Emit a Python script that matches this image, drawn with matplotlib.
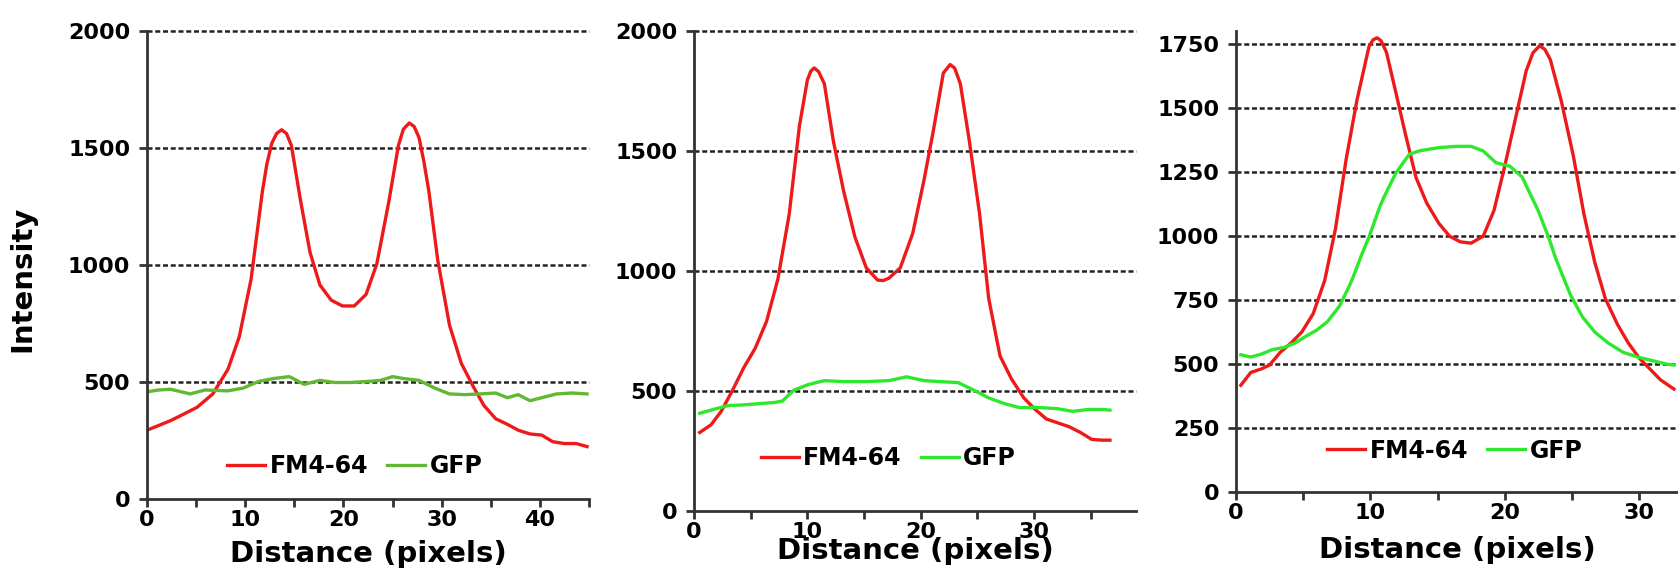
import numpy as np
import matplotlib
matplotlib.use("Agg")
import matplotlib.pyplot as plt

plt.rcParams['font.family'] = ['DejaVu Sans']
plt.rcParams['font.weight'] = 'bold'

# panel 1
x1_red = [0, 2.4, 3.6, 5.1, 6.7, 8.25, 9.4, 10.6, 11.75, 12.2, 12.7, 13.2, 13.7, 14.2, 14.7,
          15.1, 15.6, 16.6, 17.6, 18.75, 19.9, 21.1, 22.3, 23.4, 24.6, 25.6, 26.1, 26.7,
          27.2, 27.7, 28.2, 28.7, 29.6, 30.8, 32.0, 33.2, 34.3, 35.5, 36.7, 37.8, 39.0,
          40.2, 41.3, 42.5, 43.7, 44.8]
y1_red = [294, 335, 360, 392, 449, 555, 694, 940, 1315, 1430, 1520, 1562, 1578, 1562, 1511,
          1410, 1283, 1054, 915, 850, 825, 825, 874, 1005, 1266, 1511, 1580, 1607,
          1592, 1544, 1440, 1315, 1021, 743, 580, 482, 400, 343, 319, 294, 278,
          273, 245, 237, 237, 224]
x1_grn = [0, 1.2, 2.4, 4.4, 5.9, 8.2, 9.8, 11.4, 12.9, 14.5, 16.0, 17.6, 19.1, 20.7, 22.3,
          23.8, 25.0, 26.1, 27.7, 29.3, 30.8, 32.4, 33.9, 35.5, 36.7, 37.8, 39.0, 40.2,
          41.7, 43.3, 44.8]
y1_grn = [458, 466, 469, 449, 466, 462, 474, 503, 515, 523, 490, 507, 498, 498, 502,
          507, 523, 515, 507, 474, 449, 446, 449, 453, 433, 446, 420, 433,
          449, 453, 449]

# panel 2
x2_red = [0.5, 1.5, 2.4, 3.4, 4.4, 5.4, 6.4, 7.4, 8.4, 9.3, 10.0, 10.3, 10.6, 11.0, 11.5,
          12.3, 13.2, 14.2, 15.2, 16.2, 16.7, 17.2, 18.2, 19.3, 20.3, 21.1, 22.0, 22.6,
          23.0, 23.5, 24.3, 25.2, 26.0, 27.0, 28.0, 29.1, 30.1, 31.1, 32.1, 33.1, 34.1,
          35.1, 36.0, 36.7]
y2_red = [327, 359, 415, 503, 598, 678, 790, 966, 1237, 1604, 1795, 1832, 1846, 1830, 1780,
          1540, 1333, 1141, 1013, 962, 960, 970, 1013, 1157, 1380, 1580, 1825, 1860,
          1845, 1780, 1540, 1237, 886, 646, 551, 471, 423, 383, 367, 351, 327,
          298, 295, 295]
x2_grn = [0.5, 1.7, 3.0, 4.4, 5.7, 7.1, 7.8, 8.8, 10.1, 11.5, 13.2, 15.2, 17.2, 18.75, 20.3,
          22.0, 23.3, 24.7, 26.0, 27.4, 28.7, 30.4, 32.1, 33.4, 34.8, 36.1, 36.7]
y2_grn = [407, 423, 439, 442, 447, 452, 458, 503, 527, 543, 539, 539, 543, 559, 543,
          538, 535, 503, 471, 447, 431, 431, 426, 415, 423, 423, 420]

# panel 3
x3_red = [0.36, 1.1, 1.9, 2.5, 3.3, 4.1, 4.9, 5.75, 6.6, 7.4, 8.2, 9.0, 9.9, 10.2, 10.5,
          10.8, 11.2, 11.9, 12.6, 13.4, 14.2, 15.1, 15.9, 16.7, 17.5, 18.4, 19.2, 20.0,
          20.8, 21.6, 22.1, 22.6, 23.0, 23.4, 24.2, 25.1, 25.9, 26.7, 27.5, 28.4, 29.2,
          30.0, 30.8, 31.6, 32.6]
y3_red = [417, 467, 481, 496, 546, 582, 625, 697, 826, 1027, 1300, 1530, 1740, 1766, 1774,
          1762, 1717, 1560, 1400, 1228, 1128, 1049, 999, 977, 972, 999, 1099, 1272,
          1458, 1645, 1715, 1743, 1728, 1688, 1530, 1315, 1085, 898, 754, 654, 582,
          524, 481, 438, 402]
x3_grn = [0.36, 1.1, 1.9, 2.7, 3.6, 4.4, 5.2, 6.0, 6.8, 7.7, 8.5, 8.9, 9.3, 9.9, 10.7,
          11.0, 11.9, 12.9, 13.7, 15.1, 16.4, 17.5, 18.4, 19.35, 20.4, 21.3, 22.5, 23.3,
          23.8, 24.9, 25.8, 26.7, 27.7, 28.8, 29.9, 31.0, 32.1, 32.6]
y3_grn = [536, 527, 539, 556, 565, 582, 608, 632, 665, 726, 812, 864, 920, 996, 1114,
          1150, 1246, 1319, 1333, 1345, 1350, 1350, 1332, 1286, 1272, 1230, 1098, 990,
          912, 769, 683, 625, 582, 546, 527, 513, 499, 496]

red = '#ee1a1a'
greens = ['#62b832', '#2ee82e', '#2ee82e']

panels = [
    (x1_red, y1_red, x1_grn, y1_grn, (0, 45), (0, 2000), 2000, 500,
     [0.0876, 0.123, 0.2634, 0.8225], (0.47, 0.07), -0.088),
    (x2_red, y2_red, x2_grn, y2_grn, (0, 39), (0, 2000), 2000, 500,
     [0.4136, 0.102, 0.2634, 0.8436], (0.44, 0.11), -0.055),
    (x3_red, y3_red, x3_grn, y3_grn, (0, 32.9), (0, 1800), 1750, 250,
     [0.7366, 0.1353, 0.2634, 0.810], (0.495, 0.09), -0.095),
]

fig = plt.figure(figsize=(16.78, 5.69), dpi=100)

for i, (xr, yr, xg, yg, xl, yl, ytop, ystep, pos, legpos, xlab_y) in enumerate(panels):
    ax = fig.add_axes(pos)
    ax.plot(xr, yr, color=red, lw=2.4, label='FM4-64', solid_joinstyle='round')
    ax.plot(xg, yg, color=greens[i], lw=2.4, label='GFP', solid_joinstyle='round')
    ax.set_xlim(*xl)
    ax.set_ylim(*yl)
    yt = np.arange(0, ytop + 1, ystep)
    ax.set_yticks(yt)
    ax.set_xticks(np.arange(0, xl[1] + 0.1, 10))
    ax.set_xticks(np.arange(0, xl[1] + 0.1, 5), minor=True)
    for t in yt[1:]:
        ax.axhline(t, color='#222222', lw=1.8, ls=(0, (2, 1.1)), zorder=0, clip_on=False)
    for s in ['top', 'right']:
        ax.spines[s].set_visible(False)
    for s in ['left', 'bottom']:
        ax.spines[s].set_linewidth(2)
        ax.spines[s].set_color('#333333')
    ax.tick_params(axis='both', which='both', direction='out', length=6, width=2,
                   color='#333333', labelsize=16)
    ax.tick_params(axis='y', pad=6)
    ax.tick_params(axis='x', pad=2)
    ax.set_xlabel('Distance (pixels)', fontsize=21, fontweight='bold')
    ax.xaxis.set_label_coords(0.5, xlab_y)
    if i == 0:
        ax.set_ylabel('Intensity', fontsize=21, fontweight='bold')
        ax.yaxis.set_label_coords(-0.25, 0.47)
    ax.legend(loc='center', bbox_to_anchor=legpos, ncol=2, frameon=False, fontsize=17,
              handlelength=1.6, handletextpad=0.2, columnspacing=0.8)

plt.savefig('out.png', dpi=100)
